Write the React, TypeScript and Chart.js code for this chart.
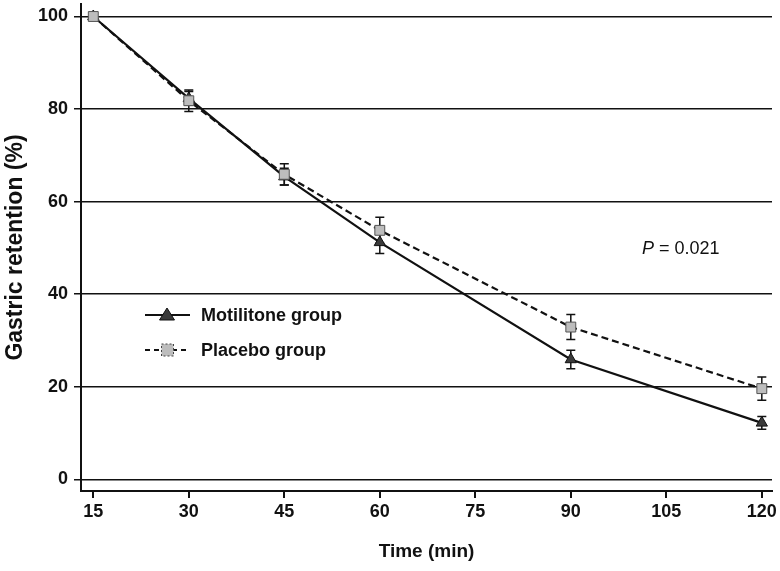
import React, { useEffect, useRef } from "react";
import { Chart, registerables } from "chart.js";
Chart.register(...registerables);

const timePoints = [15, 30, 45, 60, 90, 120];
const motilitone = [100, 82.3, 65.4, 51.2, 25.9, 12.2];
const motilitoneErr = [0, 1.5, 1.8, 2.4, 2.0, 1.4];
const placebo = [100, 81.8, 65.9, 53.8, 32.9, 19.6];
const placeboErr = [0, 2.3, 2.3, 2.8, 2.7, 2.5];
const xTicks = [15, 30, 45, 60, 75, 90, 105, 120];
const yTicks = [0, 20, 40, 60, 80, 100];
const seriesNames = ["Motilitone group", "Placebo group"];
const pLabel = "P";
const pValue = " = 0.021";

const FONT = "'Liberation Sans', Arial, sans-serif";
const SHIFT = 4; // canvas is moved up by this many px

const errorBars = {
  id: "errorBars",
  beforeDatasetsDraw(chart: any) {
    const { ctx, scales } = chart;
    const x = scales.x, y = scales.y;
    ctx.save();
    ctx.strokeStyle = "#111";
    ctx.lineWidth = 1.5;
    ctx.setLineDash([]);
    chart.data.datasets.forEach((ds: any) => {
      ds.data.forEach((p: any, i: number) => {
        const e = ds.errors[i];
        if (!e) return;
        const px = x.getPixelForValue(p.x);
        const t = y.getPixelForValue(p.y + e);
        const b = y.getPixelForValue(p.y - e);
        ctx.beginPath();
        ctx.moveTo(px, t);
        ctx.lineTo(px, b);
        ctx.moveTo(px - 4.5, t);
        ctx.lineTo(px + 4.5, t);
        ctx.moveTo(px - 4.5, b);
        ctx.lineTo(px + 4.5, b);
        ctx.stroke();
      });
    });
    ctx.restore();
  },
};

const extras = {
  id: "extras",
  afterDraw(chart: any) {
    const { ctx } = chart;
    ctx.save();
    ctx.translate(0, SHIFT);
    const rows = [
      { y: 315, name: seriesNames[0], dash: [] as number[], style: "triangle", fill: "#3a3a3a", border: "#111" },
      { y: 350, name: seriesNames[1], dash: [5, 4], style: "rect", fill: "#bdbdbd", border: "#444" },
    ];
    rows.forEach((r) => {
      ctx.strokeStyle = "#111";
      ctx.lineWidth = 2.2;
      ctx.setLineDash(r.dash);
      ctx.beginPath();
      ctx.moveTo(145, r.y);
      ctx.lineTo(190, r.y);
      ctx.stroke();
      ctx.setLineDash([]);
      ctx.fillStyle = r.fill;
      ctx.strokeStyle = r.border;
      ctx.lineWidth = 1;
      if (r.style === "triangle") {
        ctx.beginPath();
        ctx.moveTo(167, r.y - 7);
        ctx.lineTo(174.5, r.y + 5);
        ctx.lineTo(159.5, r.y + 5);
        ctx.closePath();
        ctx.fill();
        ctx.stroke();
      } else {
        ctx.fillRect(161.5, r.y - 6, 12, 12);
        ctx.setLineDash([2, 2]);
        ctx.strokeRect(161.5, r.y - 6, 12, 12);
        ctx.setLineDash([]);
      }
      ctx.fillStyle = "#111";
      ctx.font = `bold 18px ${FONT}`;
      ctx.textBaseline = "middle";
      ctx.textAlign = "left";
      ctx.fillText(r.name, 201, r.y + 1);
    });
    ctx.fillStyle = "#111";
    ctx.font = `italic 18px ${FONT}`;
    ctx.textBaseline = "middle";
    ctx.fillText(pLabel, 642, 249);
    const w = ctx.measureText(pLabel).width;
    ctx.font = `18px ${FONT}`;
    ctx.fillText(pValue, 642 + w, 249);
    ctx.restore();
  },
};

export default function App() {
  const ref = useRef<HTMLCanvasElement>(null);
  useEffect(() => {
    if (!ref.current) return;
    const chart = new Chart(ref.current, {
      type: "line",
      data: {
        datasets: [
          {
            label: seriesNames[0],
            data: timePoints.map((t, i) => ({ x: t, y: motilitone[i] })),
            errors: motilitoneErr,
            borderColor: "#111",
            borderWidth: 2.2,
            pointStyle: "triangle",
            pointRadius: 6.5,
            pointBackgroundColor: "#3a3a3a",
            pointBorderColor: "#111",
            pointBorderWidth: 1,
            order: 1,
            clip: false,
          } as any,
          {
            label: seriesNames[1],
            data: timePoints.map((t, i) => ({ x: t, y: placebo[i] })),
            errors: placeboErr,
            borderColor: "#111",
            borderWidth: 2.2,
            borderDash: [7, 4],
            pointStyle: "rect",
            pointRadius: 7,
            pointBackgroundColor: "#bdbdbd",
            pointBorderColor: "#555",
            pointBorderWidth: 1,
            order: 0,
            clip: false,
          } as any,
        ],
      },
      options: {
        animation: false,
        responsive: true,
        maintainAspectRatio: false,
        layout: { padding: { top: 3, right: 8, left: 0, bottom: 0 } },
        plugins: { legend: { display: false }, tooltip: { enabled: false } },
        scales: {
          x: {
            type: "linear",
            min: 13.07,
            max: 121.6,
            afterBuildTicks: (s: any) => {
              s.ticks = xTicks.map((v) => ({ value: v }));
            },
            afterFit: (s: any) => {
              s.height = 80;
              s.paddingLeft = 0;
              s.paddingRight = 0;
            },
            grid: { drawOnChartArea: false, drawTicks: true, tickLength: 7, color: "#111", lineWidth: 2 },
            border: { display: true, color: "#111", width: 2 },
            ticks: { font: { family: FONT, size: 18, weight: "bold" }, color: "#111", padding: 3, maxRotation: 0 },
            title: {
              display: true,
              text: "Time (min)",
              font: { family: FONT, size: 19, weight: "bold" },
              color: "#111",
              padding: { top: 0, bottom: 8 },
            },
          },
          y: {
            type: "linear",
            min: -2.52,
            max: 102.7,
            afterBuildTicks: (s: any) => {
              s.ticks = yTicks.map((v) => ({ value: v }));
            },
            afterFit: (s: any) => {
              s.width = 81;
              s.paddingTop = 0;
              s.paddingBottom = 0;
            },
            grid: { drawOnChartArea: true, drawTicks: true, tickLength: 7, color: "#111", lineWidth: 1.5 },
            border: { display: true, color: "#111", width: 2 },
            ticks: { font: { family: FONT, size: 18, weight: "bold" }, color: "#111", padding: 6 },
            title: {
              display: true,
              text: "Gastric retention (%)",
              font: { family: FONT, size: 23, weight: "bold" },
              color: "#111",
              padding: { top: 2, bottom: 0 },
            },
          },
        },
      },
      plugins: [errorBars, extras],
    } as any);
    return () => chart.destroy();
  }, []);
  return (
    <div style={{ position: "absolute", left: 0, top: -SHIFT, width: 780, height: 571 + SHIFT }}>
      <canvas ref={ref} />
    </div>
  );
}
